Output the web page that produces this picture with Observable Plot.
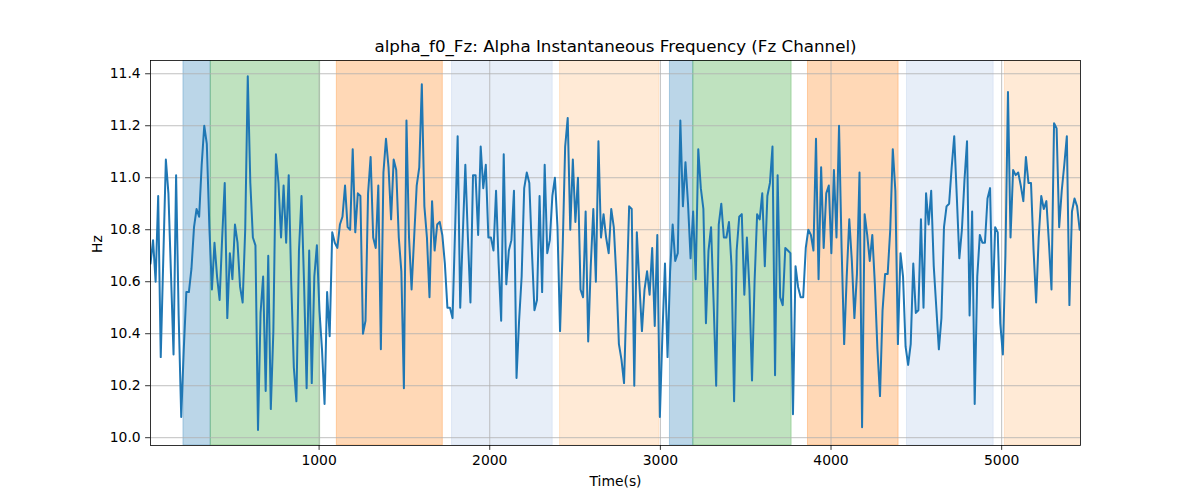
<!DOCTYPE html>
<html><head><meta charset="utf-8">
<script src="https://cdn.jsdelivr.net/npm/d3@7"></script>
<script src="https://cdn.jsdelivr.net/npm/@observablehq/plot@0.6"></script>
<style>body{margin:0;background:#fff} #chart svg{font-family:"DejaVu Sans",sans-serif}</style>
</head><body><div id="chart"></div>
<script>
const titleText = "alpha_f0_Fz: Alpha Instantaneous Frequency (Fz Channel)";
const xLabel = "Time(s)";
const yLabel = "Hz";
const xTicks = [1000, 2000, 3000, 4000, 5000];
const yTicks = [10.0, 10.2, 10.4, 10.6, 10.8, 11.0, 11.2, 11.4];

const times = [
12,27,42,57,72,87,102,117,132,147,
162,177,192,207,222,237,252,267,282,297,
312,327,342,357,372,387,402,417,432,447,
462,477,492,507,522,537,552,567,582,597,
612,627,642,657,672,687,702,717,732,747,
762,777,792,807,822,837,852,867,882,897,
912,927,942,957,972,987,1002,1017,1032,1047,
1062,1077,1092,1107,1122,1137,1152,1167,1182,1197,
1212,1227,1242,1257,1272,1287,1302,1317,1332,1347,
1362,1377,1392,1407,1422,1437,1452,1467,1482,1497,
1512,1527,1542,1557,1572,1587,1602,1617,1632,1647,
1662,1677,1692,1707,1722,1737,1752,1767,1782,1797,
1812,1827,1842,1857,1872,1887,1902,1917,1932,1947,
1962,1977,1992,2007,2022,2037,2052,2067,2082,2097,
2112,2127,2142,2157,2172,2187,2202,2217,2232,2247,
2262,2277,2292,2307,2322,2337,2352,2367,2382,2397,
2412,2427,2442,2457,2472,2487,2502,2517,2532,2547,
2562,2577,2592,2607,2622,2637,2652,2667,2682,2697,
2712,2727,2742,2757,2772,2787,2802,2817,2832,2847,
2862,2877,2892,2907,2922,2937,2952,2967,2982,2997,
3012,3027,3042,3057,3072,3087,3102,3117,3132,3147,
3162,3177,3192,3207,3222,3237,3252,3267,3282,3297,
3312,3327,3342,3357,3372,3387,3402,3417,3432,3447,
3462,3477,3492,3507,3522,3537,3552,3567,3582,3597,
3612,3627,3642,3657,3672,3687,3702,3717,3732,3747,
3762,3777,3792,3807,3822,3837,3852,3867,3882,3897,
3912,3927,3942,3957,3972,3987,4002,4017,4032,4047,
4062,4077,4092,4107,4122,4137,4152,4167,4182,4197,
4212,4227,4242,4257,4272,4287,4302,4317,4332,4347,
4362,4377,4392,4407,4422,4437,4452,4467,4482,4497,
4512,4527,4542,4557,4572,4587,4602,4617,4632,4647,
4662,4677,4692,4707,4722,4737,4752,4767,4782,4797,
4812,4827,4842,4857,4872,4887,4902,4917,4932,4947,
4962,4977,4992,5007,5022,5037,5052,5067,5082,5097,
5112,5127,5142,5157,5172,5187,5202,5217,5232,5247,
5262,5277,5292,5307,5322,5337,5352,5367,5382,5397,
5412,5427,5442,5457
];

const freq = [
10.67,10.76,10.60,10.93,10.31,10.69,11.07,10.94,10.63,10.32,
11.01,10.47,10.08,10.34,10.56,10.56,10.65,10.81,10.88,10.85,
11.05,11.20,11.13,10.81,10.57,10.75,10.62,10.53,10.77,10.98,
10.46,10.71,10.61,10.82,10.75,10.58,10.52,10.80,11.39,10.98,
10.77,10.74,10.03,10.48,10.62,10.18,10.70,10.11,10.41,11.09,
10.98,10.77,10.97,10.75,11.01,10.59,10.27,10.14,10.72,10.93,
10.59,10.19,10.72,10.21,10.62,10.74,10.49,10.34,10.13,10.56,
10.39,10.79,10.75,10.73,10.82,10.85,10.97,10.81,10.80,11.11,
10.79,10.94,10.93,10.40,10.45,10.94,11.08,10.77,10.73,10.97,
10.34,11.02,11.15,11.04,10.84,11.07,11.03,10.77,10.64,10.19,
11.22,10.77,10.57,10.77,10.97,11.04,11.36,10.89,10.77,10.54,
10.91,10.72,10.82,10.83,10.78,10.67,10.50,10.50,10.46,10.80,
11.16,10.50,10.78,11.05,10.77,10.52,11.01,11.01,10.78,11.12,
10.96,11.05,10.77,10.77,10.72,10.95,10.67,10.45,11.09,10.59,
10.72,10.76,10.95,10.23,10.45,10.62,10.96,11.02,10.98,10.72,
10.49,10.53,10.93,10.56,11.05,10.71,10.76,10.93,11.00,10.81,
10.41,10.72,11.12,11.23,10.80,11.07,10.83,11.00,10.57,10.54,
10.87,10.37,10.66,10.88,10.60,11.14,10.77,10.86,10.77,10.71,
10.88,10.81,10.62,10.36,10.30,10.21,10.55,10.89,10.88,10.20,
10.79,10.59,10.41,10.57,10.64,10.55,10.73,10.43,10.78,10.08,
10.40,10.67,10.31,10.64,10.82,10.68,10.71,11.22,10.89,11.06,
10.90,10.69,10.87,10.61,11.11,10.96,10.88,10.44,10.72,10.81,
10.52,10.20,10.82,10.90,10.77,10.77,10.83,10.66,10.14,10.72,
10.85,10.86,10.55,10.77,10.57,10.22,10.60,10.86,10.84,10.94,
10.66,10.93,10.98,11.12,10.24,11.01,10.54,10.51,10.73,10.72,
10.71,10.09,10.66,10.58,10.54,10.54,10.73,10.80,10.78,10.72,
11.15,10.61,11.04,10.73,10.94,10.97,10.71,11.03,10.77,11.20,
10.73,10.36,10.62,10.84,10.68,10.46,10.63,11.02,10.04,10.86,
10.78,10.68,10.78,10.59,10.34,10.16,10.49,10.63,10.63,10.80,
11.11,10.95,10.36,10.71,10.62,10.35,10.28,10.36,10.67,10.48,
10.49,10.84,10.50,10.94,10.82,10.95,10.66,10.50,10.34,10.46,
10.81,10.89,10.90,11.04,11.16,10.93,10.69,10.80,10.99,11.14,
10.47,10.87,10.13,10.62,10.78,10.75,10.75,10.92,10.96,10.50,
10.81,10.79,10.44,10.32,10.70,11.33,10.77,11.03,11.01,11.02,
10.97,10.91,11.08,10.98,10.98,10.72,10.52,10.77,10.93,10.88,
10.91,10.75,10.57,11.21,11.19,10.81,10.95,11.05,11.16,10.51,
10.87,10.92,10.89,10.80
];

const bandStart = [205, 365, 1104, 1779, 2412, 3056, 3193, 3865, 4445, 5019];
const bandEnd   = [365, 1006, 1725, 2369, 2994, 3193, 3769, 4396, 4953, 5500];
const bandColor = ["#1f77b4","#2ca02c","#ff7f0e","#aec7e8","#ffbb78","#1f77b4","#2ca02c","#ff7f0e","#aec7e8","#ffbb78"];

const xDomain = [12, 5462];
const yDomain = [9.970, 11.451];

const series = times.map((t, i) => ({t, f: freq[i]}));
const bands = bandStart.map((s, i) => ({s, e: bandEnd[i], c: bandColor[i]}));

const chart = Plot.plot({
  width: 1200,
  height: 500,
  marginLeft: 150,
  marginRight: 120,
  marginTop: 60,
  marginBottom: 55,
  style: {fontFamily: "DejaVu Sans, sans-serif", fontSize: "13.9px", background: "#fff", color: "#000", overflow: "visible"},
  x: {domain: xDomain, label: null},
  y: {domain: yDomain, label: null},
  marks: [
    Plot.rectX(bands, {x1: "s", x2: "e", fill: "c", fillOpacity: 0.3, stroke: "c", strokeOpacity: 0.3, strokeWidth: 1, clip: true}),
    Plot.gridX(xTicks, {stroke: "#b0b0b0", strokeOpacity: 1, strokeWidth: 0.8}),
    Plot.gridY(yTicks, {stroke: "#b0b0b0", strokeOpacity: 1, strokeWidth: 0.8}),
    Plot.line(series, {x: "t", y: "f", stroke: "#1f77b4", strokeWidth: 2, clip: true}),
    Plot.frame({stroke: "#000", strokeWidth: 0.8}),
    Plot.axisX(xTicks, {tickSize: 4.9, tickPadding: 4.9, tickFormat: d3.format("d"), fontSize: "13.9px", stroke: "#000", strokeWidth: 0.8, label: null}),
    Plot.axisY(yTicks, {tickSize: 4.9, tickPadding: 4.9, tickFormat: d3.format(".1f"), fontSize: "13.9px", stroke: "#000", strokeWidth: 0.8, label: null}),
    Plot.text([titleText], {frameAnchor: "top", lineAnchor: "middle", text: d => d, dy: -14, fontSize: "16.7px", fill: "#000"}),
    Plot.text([xLabel], {frameAnchor: "bottom", lineAnchor: "middle", text: d => d, dy: 36, fontSize: "13.9px", fill: "#000"}),
    Plot.text([yLabel], {frameAnchor: "left", lineAnchor: "middle", text: d => d, dx: -53, rotate: -90, fontSize: "13.9px", fill: "#000"})
  ]
});
document.getElementById("chart").appendChild(chart);
</script>
</body></html>
